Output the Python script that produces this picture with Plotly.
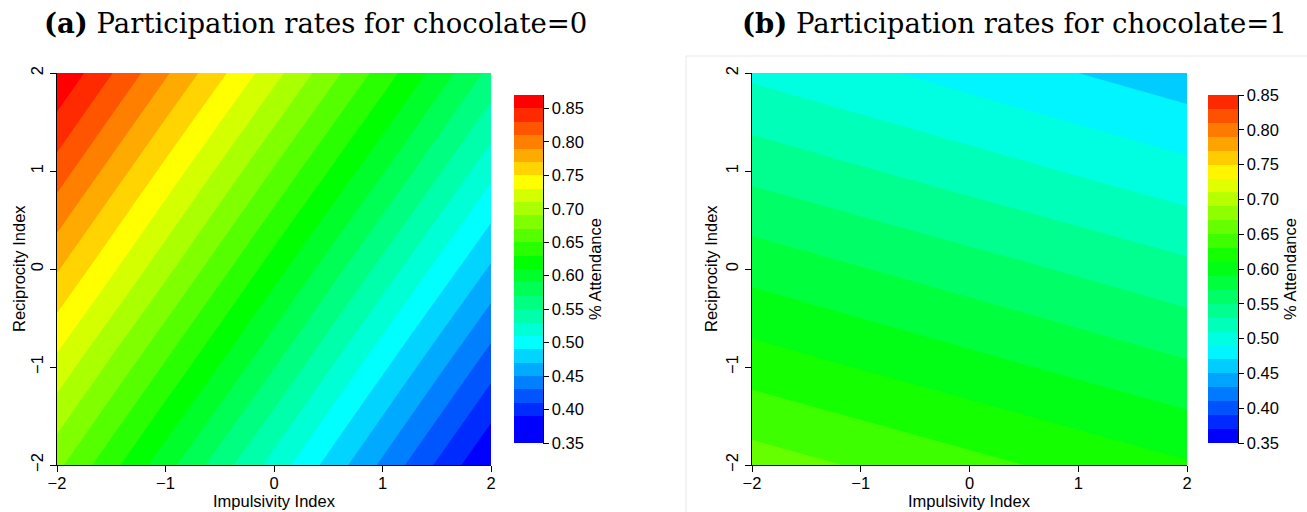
import colorsys
import plotly.graph_objects as go

# ---------------- data ----------------
impulsivity = [-2, -1, 0, 1, 2]          # x grid
reciprocity = [-2, -1, 0, 1, 2]          # y grid

# rows = reciprocity (-2 .. 2), columns = impulsivity (-2 .. 2)
attendance_choc0 = [
    [0.675, 0.598, 0.522, 0.446, 0.369],
    [0.723, 0.647, 0.571, 0.494, 0.418],
    [0.772, 0.696, 0.619, 0.543, 0.467],
    [0.821, 0.744, 0.668, 0.592, 0.516],
    [0.869, 0.793, 0.717, 0.641, 0.564],
]
attendance_choc1 = [
    [0.660, 0.648, 0.636, 0.624, 0.612],
    [0.621, 0.609, 0.597, 0.585, 0.573],
    [0.583, 0.571, 0.559, 0.547, 0.535],
    [0.544, 0.532, 0.520, 0.508, 0.496],
    [0.506, 0.494, 0.482, 0.470, 0.458],
]

cbar_ticks = [0.35, 0.40, 0.45, 0.50, 0.55, 0.60, 0.65, 0.70, 0.75, 0.80, 0.85]
level_step = 0.02
left_range = (0.35, 0.87)
right_range = (0.35, 0.85)

titles = ["<b>(a)</b> Participation rates for chocolate=0",
          "<b>(b)</b> Participation rates for chocolate=1"]
x_title = "Impulsivity Index"
y_title = "Reciprocity Index"
cbar_title = "% Attendance"

# ---------------- helpers ----------------
W, H = 1307, 512


def px(x):
    return x / W


def py(y):
    return 1 - y / H


def hue_rgb(h):
    r, g, b = colorsys.hsv_to_rgb((h % 360) / 360.0, 1, 1)
    return "rgb(%d,%d,%d)" % (round(r * 255), round(g * 255), round(b * 255))


def step_scale(colors):
    n = len(colors)
    sc = []
    for k, c in enumerate(colors):
        sc.append([k / n, c])
        sc.append([(k + 1) / n, c])
    return sc


n_left = round((left_range[1] - left_range[0]) / level_step)    # 26 bands
n_right = round((right_range[1] - right_range[0]) / level_step)  # 25 bands
left_colors = [hue_rgb(min(240, 250 - 10 * k)) for k in range(n_left)]
right_colors = [hue_rgb(240 - 9.6 * k) for k in range(n_right)]
left_scale = step_scale(left_colors)
right_scale = step_scale(right_colors)

font_sans = "Liberation Sans, Arial, sans-serif"
axis_font = dict(family=font_sans, size=16.5, color="black")

fig = go.Figure()


def add_panel(z, scale, rng, xa, ya, cb_x, cb_thick):
    fig.add_trace(go.Contour(
        x=impulsivity, y=reciprocity, z=z,
        colorscale=scale, autocontour=False,
        contours=dict(start=rng[0] + level_step, end=rng[1] - level_step,
                      size=level_step, coloring="fill", showlines=False),
        line=dict(width=0), showscale=False,
        xaxis=xa, yaxis=ya, hoverinfo="skip"))
    fig.add_trace(go.Scatter(
        x=[None], y=[None], mode="markers", xaxis=xa, yaxis=ya,
        showlegend=False, hoverinfo="skip",
        marker=dict(color=[rng[0], rng[1]], cmin=rng[0], cmax=rng[1],
                    colorscale=scale, showscale=True,
                    colorbar=dict(
                        x=cb_x, xanchor="left", xpad=0, ypad=0,
                        y=py(269), yanchor="middle",
                        thicknessmode="pixels", thickness=cb_thick,
                        lenmode="pixels", len=348,
                        outlinewidth=0,
                        tickvals=cbar_ticks, tickformat=".2f",
                        ticks="outside", ticklen=6, tickcolor="black",
                        tickfont=axis_font,
                        title=dict(text=cbar_title, side="right",
                                   font=axis_font)))))


add_panel(attendance_choc0, left_scale, left_range, "x", "y", px(514), 29)
add_panel(attendance_choc1, right_scale, right_range, "x2", "y2", px(1208), 30)

ax_common = dict(range=[-2, 2], dtick=1, tick0=-2, showline=True,
                 linecolor="black", linewidth=1, ticks="outside", ticklen=6,
                 tickcolor="black", showgrid=False, zeroline=False,
                 tickfont=axis_font, mirror=False, automargin=False)

ydom = [py(465), py(73)]
fig.update_layout(
    width=W, height=H,
    margin=dict(l=0, r=0, t=0, b=0, autoexpand=False),
    paper_bgcolor="white", plot_bgcolor="white", showlegend=False,
    xaxis=dict(ax_common, domain=[px(57), px(491)], anchor="y", ticklabelstandoff=-3),
    yaxis=dict(ax_common, domain=ydom, anchor="x", tickangle=-90),
    xaxis2=dict(ax_common, domain=[px(752), px(1187)], anchor="y2", ticklabelstandoff=-3),
    yaxis2=dict(ax_common, domain=ydom, anchor="x2", tickangle=-90),
)

# panel titles
for t, cx in zip(titles, [315, 1014]):
    fig.add_annotation(text=t, x=px(cx), y=py(23), xref="paper", yref="paper",
                       xanchor="center", yanchor="middle", showarrow=False,
                       font=dict(family="DejaVu Serif, serif", size=27.5, color="black"))

# axis titles
for cx in (274, 969):
    fig.add_annotation(text=x_title, x=px(cx), y=py(501), xref="paper", yref="paper",
                       xanchor="center", yanchor="middle", showarrow=False,
                       font=axis_font)
for cx in (19, 711):
    fig.add_annotation(text=y_title, x=px(cx), y=py(269), xref="paper", yref="paper",
                       xanchor="center", yanchor="middle", showarrow=False,
                       textangle=-90, font=axis_font)

# faint frame around right panel and colorbar axis lines
fig.add_shape(type="rect", xref="paper", yref="paper",
              x0=px(686), x1=px(1312), y0=py(517), y1=py(56),
              line=dict(color="#e8e8e8", width=1))
for xline in (543.5, 1238.5):
    fig.add_shape(type="line", xref="paper", yref="paper",
                  x0=px(xline), x1=px(xline), y0=py(95), y1=py(443),
                  line=dict(color="black", width=1))

fig.write_html("out.html",
               config={"displayModeBar": False},
               post_script="document.body.style.margin='0px';"
                           "document.body.style.overflow='hidden';")
